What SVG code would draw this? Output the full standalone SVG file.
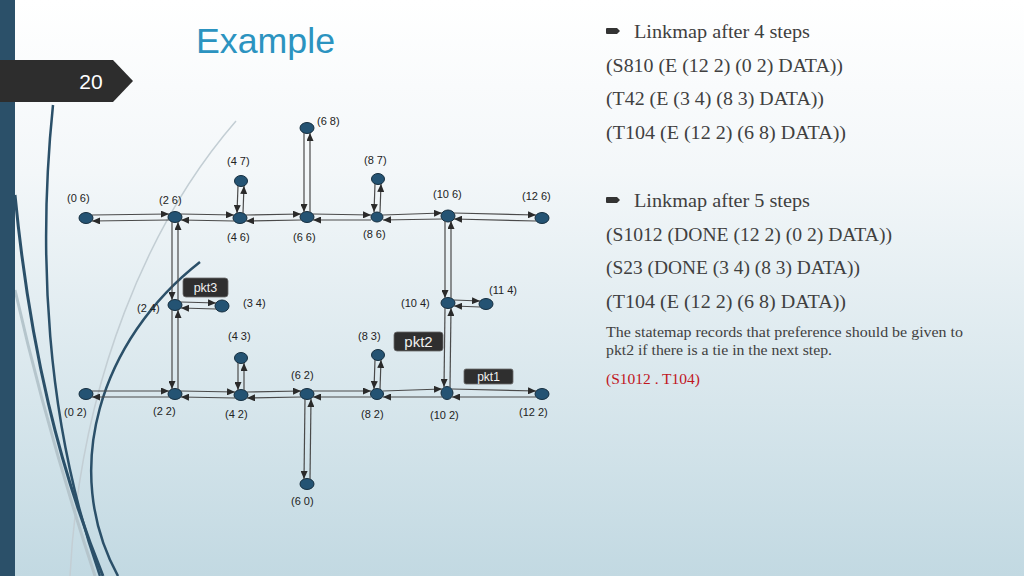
<svg xmlns="http://www.w3.org/2000/svg" width="1024" height="576" viewBox="0 0 1024 576">
<defs>
<linearGradient id="bg" x1="0" y1="0" x2="0" y2="1">
<stop offset="0" stop-color="#ffffff"/>
<stop offset="0.3" stop-color="#f3f7f9"/>
<stop offset="1" stop-color="#c2d9e2"/>
</linearGradient>
<marker id="ah" markerUnits="userSpaceOnUse" markerWidth="8" markerHeight="7" refX="8" refY="3.5" orient="auto">
<path d="M0,0 L8,3.5 L0,7 z" fill="#2a2a2a"/>
</marker>
<style>
.c line{stroke:#4a4a4a;stroke-width:1.2;marker-end:url(#ah)}
.n ellipse{fill:#245373;stroke:#162f40;stroke-width:1}
.lb{font-family:"Liberation Sans",Arial,sans-serif;font-size:11px;fill:#222}
.pk rect{fill:#2f2f2f;stroke:#6a6a6a;stroke-width:0.8}
.pk text{font-family:"Liberation Sans",Arial,sans-serif;fill:#f0f0f0;text-anchor:middle}
.rt{font-family:"Liberation Serif","Times New Roman",serif;font-size:18.5px;fill:#404040}
.sm{font-family:"Liberation Serif","Times New Roman",serif;font-size:14.5px;fill:#404040}
.deco{fill:none}
</style>
</defs>
<rect width="1024" height="576" fill="url(#bg)"/>
<!-- decorative curves -->
<g class="deco">
<path d="M236,121 C150,220 80,380 70,576" stroke="#c3ced4" stroke-width="1.5"/>
<path d="M15,290 C40,400 70,500 95,576" stroke="#b5c5cc" stroke-width="3"/>
<path d="M15,195 C30,350 60,470 103,576" stroke="#2b5069" stroke-width="3"/>
<path d="M53,105 C38,250 45,420 100,576" stroke="#2b5069" stroke-width="2.5"/>
<path d="M200,262 C100,340 60,470 118,576" stroke="#2b5069" stroke-width="2.5"/>
</g>
<rect x="0" y="0" width="15" height="576" fill="#2b5069"/>
<polygon points="0,60 113,60 133,81 113,102 0,102" fill="#2d2d2d"/>
<text x="91" y="89" font-family="'Liberation Sans',Arial,sans-serif" font-size="21" fill="#ffffff" text-anchor="middle">20</text>
<text x="196" y="53" font-family="'Liberation Sans',Arial,sans-serif" font-size="35" fill="#2b93c0" textLength="139" lengthAdjust="spacingAndGlyphs">Example</text>

<!-- nodes -->
<g class="n">
<g id="n06"><ellipse cx="86" cy="218" rx="7" ry="5.5"/></g>
<g id="n26"><ellipse cx="175" cy="217" rx="7" ry="5.5"/></g>
<g id="n46"><ellipse cx="240" cy="218" rx="7" ry="5.5"/></g>
<g id="n66"><ellipse cx="307" cy="217" rx="7" ry="5.5"/></g>
<g id="n86"><ellipse cx="377" cy="217" rx="6" ry="5"/></g>
<g id="n106"><ellipse cx="448" cy="216" rx="7" ry="6"/></g>
<g id="n126"><ellipse cx="542" cy="218" rx="7" ry="5.5"/></g>
<g id="n68"><ellipse cx="307" cy="128" rx="7" ry="5.5"/></g>
<g id="n47"><ellipse cx="241" cy="181" rx="6.5" ry="5.5"/></g>
<g id="n87"><ellipse cx="378" cy="179" rx="6.5" ry="5.5"/></g>
<g id="n24"><ellipse cx="175" cy="305" rx="7" ry="5.5"/></g>
<g id="n34"><ellipse cx="222" cy="306" rx="7" ry="6"/></g>
<g id="n104"><ellipse cx="448" cy="303" rx="7" ry="5.5"/></g>
<g id="n114"><ellipse cx="486" cy="304" rx="7" ry="5.5"/></g>
<g id="n43"><ellipse cx="241" cy="358" rx="6.5" ry="5.5"/></g>
<g id="n83"><ellipse cx="378" cy="355" rx="6.5" ry="5.5"/></g>
<g id="n02"><ellipse cx="86" cy="394" rx="7" ry="5.5"/></g>
<g id="n22"><ellipse cx="175" cy="394" rx="7" ry="5.5"/></g>
<g id="n42"><ellipse cx="241" cy="395" rx="7" ry="5.5"/></g>
<g id="n62"><ellipse cx="307" cy="394" rx="7" ry="5.5"/></g>
<g id="n82"><ellipse cx="377" cy="394" rx="6.5" ry="5.5"/></g>
<g id="n102"><ellipse cx="447" cy="393" rx="6" ry="6.5"/></g>
<g id="n122"><ellipse cx="542" cy="394" rx="7" ry="5.5"/></g>
<g id="n60"><ellipse cx="307" cy="484" rx="7" ry="5.5"/></g>
</g>

<!-- connectors -->
<g class="c" id="connectors">
<!-- top row -->
<line x1="92" y1="215" x2="169" y2="214"/>
<line x1="169" y1="220" x2="92" y2="221"/>
<line x1="181" y1="214" x2="234" y2="215"/>
<line x1="234" y1="221" x2="181" y2="220"/>
<line x1="246" y1="215" x2="301" y2="214"/>
<line x1="301" y1="220" x2="246" y2="221"/>
<line x1="313" y1="214" x2="371" y2="215"/>
<line x1="371" y1="220" x2="313" y2="220"/>
<line x1="383" y1="215" x2="442" y2="213"/>
<line x1="442" y1="219" x2="383" y2="220"/>
<line x1="454" y1="213" x2="536" y2="215"/>
<line x1="536" y1="221" x2="454" y2="219"/>
<!-- bottom row -->
<line x1="92" y1="391" x2="169" y2="391"/>
<line x1="169" y1="397" x2="92" y2="397"/>
<line x1="181" y1="391" x2="235" y2="392"/>
<line x1="235" y1="398" x2="181" y2="397"/>
<line x1="247" y1="392" x2="301" y2="391"/>
<line x1="301" y1="397" x2="247" y2="398"/>
<line x1="313" y1="391" x2="371" y2="391"/>
<line x1="371" y1="397" x2="313" y2="397"/>
<line x1="383" y1="391" x2="442" y2="389"/>
<line x1="442" y1="397" x2="383" y2="397"/>
<line x1="452" y1="389" x2="536" y2="391"/>
<line x1="536" y1="397" x2="452" y2="397"/>
<!-- middle horizontals -->
<line x1="181" y1="302" x2="216" y2="303"/>
<line x1="216" y1="309" x2="181" y2="308"/>
<line x1="454" y1="300" x2="480" y2="301"/>
<line x1="480" y1="307" x2="454" y2="306"/>
<!-- verticals -->
<line x1="172" y1="222" x2="172" y2="300"/>
<line x1="178" y1="300" x2="178" y2="222"/>
<line x1="172" y1="310" x2="172" y2="389"/>
<line x1="178" y1="389" x2="178" y2="310"/>
<line x1="238" y1="186" x2="237" y2="213"/>
<line x1="243" y1="213" x2="244" y2="186"/>
<line x1="304" y1="133" x2="304" y2="212"/>
<line x1="310" y1="212" x2="310" y2="133"/>
<line x1="375" y1="184" x2="374" y2="212"/>
<line x1="380" y1="212" x2="381" y2="184"/>
<line x1="445" y1="221" x2="445" y2="298"/>
<line x1="451" y1="298" x2="451" y2="221"/>
<line x1="445" y1="308" x2="444" y2="387"/>
<line x1="450" y1="387" x2="451" y2="308"/>
<line x1="238" y1="363" x2="238" y2="390"/>
<line x1="244" y1="390" x2="244" y2="363"/>
<line x1="375" y1="360" x2="374" y2="389"/>
<line x1="380" y1="389" x2="381" y2="360"/>
<line x1="305" y1="399" x2="304" y2="479"/>
<line x1="310" y1="479" x2="311" y2="399"/>
</g>

<!-- node labels -->
<g id="labels">
<text class="lb" x="317" y="125">(6 8)</text>
<text class="lb" x="227" y="165">(4 7)</text>
<text class="lb" x="364" y="164">(8 7)</text>
<text class="lb" x="67" y="202">(0 6)</text>
<text class="lb" x="159" y="204">(2 6)</text>
<text class="lb" x="433" y="198">(10 6)</text>
<text class="lb" x="522" y="200">(12 6)</text>
<text class="lb" x="227" y="241">(4 6)</text>
<text class="lb" x="293" y="241">(6 6)</text>
<text class="lb" x="363" y="238">(8 6)</text>
<text class="lb" x="137" y="312">(2 4)</text>
<text class="lb" x="243" y="307">(3 4)</text>
<text class="lb" x="401" y="307">(10 4)</text>
<text class="lb" x="489" y="294">(11 4)</text>
<text class="lb" x="228" y="340">(4 3)</text>
<text class="lb" x="358" y="340">(8 3)</text>
<text class="lb" x="291" y="379">(6 2)</text>
<text class="lb" x="64" y="416">(0 2)</text>
<text class="lb" x="153" y="415">(2 2)</text>
<text class="lb" x="225" y="418">(4 2)</text>
<text class="lb" x="361" y="418">(8 2)</text>
<text class="lb" x="430" y="419">(10 2)</text>
<text class="lb" x="519" y="416">(12 2)</text>
<text class="lb" x="291" y="505">(6 0)</text>
</g>

<!-- packets -->
<g class="pk" id="pkt3"><rect x="183" y="278" width="45" height="19" rx="3"/><text x="205.5" y="292" font-size="12.5">pkt3</text></g>
<g class="pk" id="pkt2"><rect x="394" y="332" width="49" height="19" rx="3"/><text x="418.5" y="347" font-size="15">pkt2</text></g>
<g class="pk" id="pkt1"><rect x="464" y="369" width="49" height="15" rx="2"/><text x="488.5" y="381" font-size="12">pkt1</text></g>

<!-- right text -->
<g id="text-right">
<path d="M607,28 L617,28 L620,31 L617,34 L607,34 Q606,34 606,33 L606,29 Q606,28 607,28 z" fill="#333"/>
<text class="rt" x="634" y="38" textLength="176" lengthAdjust="spacingAndGlyphs">Linkmap after 4 steps</text>
<text class="rt" x="606" y="72" textLength="237" lengthAdjust="spacingAndGlyphs">(S810 (E (12 2) (0 2) DATA))</text>
<text class="rt" x="606" y="105" textLength="218" lengthAdjust="spacingAndGlyphs">(T42 (E (3 4) (8 3) DATA))</text>
<text class="rt" x="606" y="139" textLength="240" lengthAdjust="spacingAndGlyphs">(T104 (E (12 2) (6 8) DATA))</text>
<path d="M607,197 L617,197 L620,200 L617,203 L607,203 Q606,203 606,202 L606,198 Q606,197 607,197 z" fill="#333"/>
<text class="rt" x="634" y="207" textLength="176" lengthAdjust="spacingAndGlyphs">Linkmap after 5 steps</text>
<text class="rt" x="606" y="241" textLength="286" lengthAdjust="spacingAndGlyphs">(S1012 (DONE (12 2) (0 2) DATA))</text>
<text class="rt" x="606" y="274" textLength="254" lengthAdjust="spacingAndGlyphs">(S23 (DONE (3 4) (8 3) DATA))</text>
<text class="rt" x="606" y="308" textLength="240" lengthAdjust="spacingAndGlyphs">(T104 (E (12 2) (6 8) DATA))</text>
<text class="sm" x="606" y="337" textLength="357" lengthAdjust="spacingAndGlyphs">The statemap records that preference should be given to</text>
<text class="sm" x="606" y="355" textLength="226" lengthAdjust="spacingAndGlyphs">pkt2 if there is a tie in the next step.</text>
<text class="sm" x="606" y="384" fill="#c0161e" style="fill:#c0161e" textLength="94" lengthAdjust="spacingAndGlyphs">(S1012 . T104)</text>
</g>
</svg>
